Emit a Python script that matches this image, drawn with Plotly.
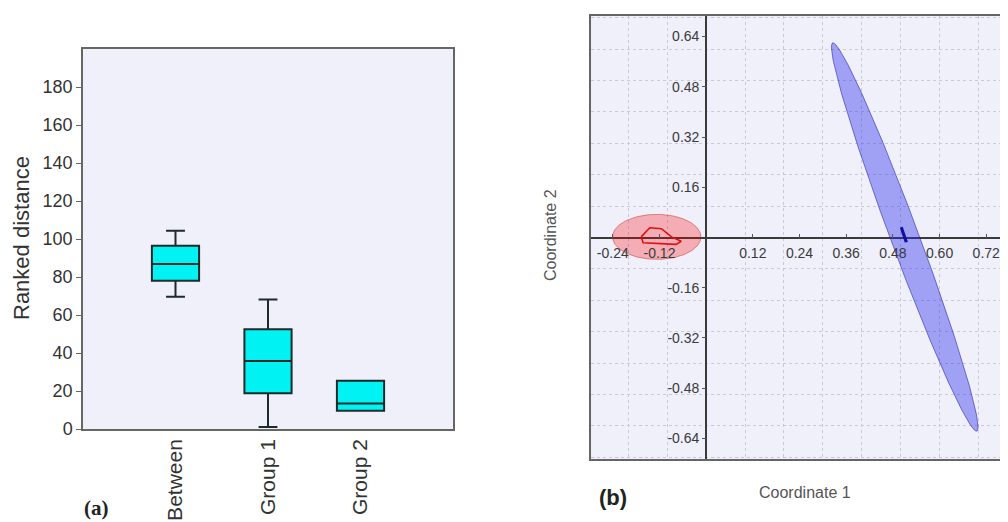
import numpy as np
import plotly.graph_objects as go

# ---------------- data: panel (a) box plot ----------------
categories = ["Between", "Group 1", "Group 2"]
lower_fence = [69.6, 1.0, 9.6]
q1_vals = [78.0, 18.8, 9.6]
median_vals = [86.8, 35.8, 13.4]
q3_vals = [96.5, 52.5, 25.4]
upper_fence = [104.4, 68.2, 25.4]
y_ticks_a = [0, 20, 40, 60, 80, 100, 120, 140, 160, 180]

# ---------------- data: panel (b) ordination ----------------
x_ticks_b = [-0.24, -0.12, 0.12, 0.24, 0.36, 0.48, 0.60, 0.72]
y_ticks_b = [-0.64, -0.48, -0.32, -0.16, 0.16, 0.32, 0.48, 0.64]

# red group: 95% ellipse (center, semi-axes) and convex hull
red_center = [-0.127, 0.002]
red_semi_axes = [0.1135, 0.0717]
red_hull_x = [-0.167, -0.145, -0.115, -0.089, -0.064, -0.077, -0.162, -0.167]
red_hull_y = [0.002, 0.031, 0.028, 0.002, -0.012, -0.022, -0.017, 0.002]

# blue group: ellipse (center, tip of major semi-axis, half horizontal width)
blue_center = [0.5105, 0.0015]
blue_tip = [0.326, 0.620]
blue_half_width = 0.0386
blue_hull_x = [0.500, 0.504, 0.516, 0.512, 0.500]
blue_hull_y = [0.030, 0.031, -0.012, -0.013, 0.030]

# ---------------- layout geometry ----------------
# The page body has an 8px margin, so the figure is drawn 8px in from the
# top-left corner of the 1008x522 window: size it to fill the rest.
OFF = 8
VW, VH = 1008, 522
W, H = VW - OFF, VH - OFF
def px_x(p):
    return (p - OFF) / W
def px_y(p):
    return (VH - p) / H

a_dom_x = [px_x(83), px_x(453)]
a_dom_y = [px_y(429), px_y(49)]
b_dom_x = [px_x(591), px_x(1008)]
b_dom_y = [px_y(459), px_y(16)]

xb_range = [-0.296, -0.296 + (1008 - 591) / 389.0]
yb_range = [-0.7055, 0.7055]

# paper positions of the zero lines (for the free axes carrying labels)
x_zero_paper = b_dom_x[0] + (0 - xb_range[0]) / (xb_range[1] - xb_range[0]) * (b_dom_x[1] - b_dom_x[0])
y_zero_paper = b_dom_y[0] + (0 - yb_range[0]) / (yb_range[1] - yb_range[0]) * (b_dom_y[1] - b_dom_y[0])

FONT = "Liberation Sans, Arial, sans-serif"
BG = "#f0f0fa"

fig = go.Figure()

# ---- panel (a)
fig.add_trace(go.Box(
    x=categories, q1=q1_vals, median=median_vals, q3=q3_vals,
    lowerfence=lower_fence, upperfence=upper_fence,
    fillcolor="#00f2f2", line=dict(color="#1c2a2a", width=2),
    width=0.51, whiskerwidth=0.4, boxpoints=False,
    xaxis="x", yaxis="y", showlegend=False, hoverinfo="skip"))

# ---- panel (b) ellipses
t = np.linspace(0, 2 * np.pi, 200)
rx = red_center[0] + red_semi_axes[0] * np.cos(t)
ry = red_center[1] + red_semi_axes[1] * np.sin(t)
fig.add_trace(go.Scatter(x=rx, y=ry, mode="lines", fill="toself",
                         fillcolor="rgba(255,0,0,0.28)",
                         line=dict(color="rgba(200,40,40,0.5)", width=1),
                         xaxis="x2", yaxis="y2", showlegend=False, hoverinfo="skip"))
fig.add_trace(go.Scatter(x=red_hull_x, y=red_hull_y, mode="lines",
                         line=dict(color="#e01010", width=1.6),
                         xaxis="x2", yaxis="y2", showlegend=False, hoverinfo="skip"))

ax = blue_tip[0] - blue_center[0]
ay = blue_tip[1] - blue_center[1]
bx_ = blue_center[0] + ax * np.cos(t) + blue_half_width * np.sin(t)
by_ = blue_center[1] + ay * np.cos(t)
fig.add_trace(go.Scatter(x=bx_, y=by_, mode="lines", fill="toself",
                         fillcolor="rgba(40,40,235,0.40)",
                         line=dict(color="rgba(40,40,170,0.6)", width=1),
                         xaxis="x2", yaxis="y2", showlegend=False, hoverinfo="skip"))
fig.add_trace(go.Scatter(x=blue_hull_x, y=blue_hull_y, mode="lines",
                         line=dict(color="#1010a0", width=1.6),
                         xaxis="x2", yaxis="y2", showlegend=False, hoverinfo="skip"))

# dummy trace for the label axes
fig.add_trace(go.Scatter(x=[None], y=[None], xaxis="x3", yaxis="y3",
                         showlegend=False, hoverinfo="skip"))

grid_kw = dict(showgrid=True, gridcolor="#cacad4", griddash="3px,3px", gridwidth=1)

fig.update_layout(
    width=W, height=H,
    margin=dict(l=0, r=0, t=0, b=0, autoexpand=False),
    paper_bgcolor="white", plot_bgcolor=BG,
    font=dict(family=FONT, color="#333333"),
    xaxis=dict(domain=a_dom_x, anchor="y", type="category", range=[-1, 3],
               automargin=False,
               showline=True, mirror=True, linecolor="#666666", linewidth=1.5,
               showgrid=False, zeroline=False, ticks="",
               tickangle=-90, tickfont=dict(size=21, color="#333333")),
    yaxis=dict(domain=a_dom_y, anchor="x", range=[0, 200], automargin=False,
               tickvals=y_ticks_a, showline=True, mirror=True,
               linecolor="#666666", linewidth=1.5, showgrid=False, zeroline=False,
               ticks="outside", ticklen=5, tickcolor="#666666",
               tickfont=dict(size=18, color="#333333")),
    xaxis2=dict(domain=b_dom_x, anchor="y2", range=xb_range, automargin=False,
                tick0=0, dtick=0.1, showticklabels=False, ticks="",
                zeroline=True, zerolinecolor="#3a3a3a", zerolinewidth=1.5,
                showline=True, mirror=True, linecolor="#666666", linewidth=1.5,
                **grid_kw),
    yaxis2=dict(domain=b_dom_y, anchor="x2", range=yb_range, automargin=False,
                tick0=0, dtick=0.1, showticklabels=False, ticks="",
                zeroline=True, zerolinecolor="#3a3a3a", zerolinewidth=1.5,
                showline=True, mirror=False, linecolor="#666666", linewidth=1.5,
                **grid_kw),
    xaxis3=dict(overlaying="x2", anchor="free", position=y_zero_paper,
                range=xb_range, tickvals=x_ticks_b, automargin=False,
                ticktext=[f"{v:.2f}" for v in x_ticks_b],
                ticks="inside", ticklen=4, tickcolor="#555555",
                ticklabelstandoff=5,
                showgrid=False, zeroline=False, showline=False,
                tickfont=dict(size=14, color="#3a3a3a")),
    yaxis3=dict(overlaying="y2", anchor="free", position=x_zero_paper, side="left",
                range=yb_range, tickvals=y_ticks_b, automargin=False,
                ticktext=[f"{v:.2f}" for v in y_ticks_b],
                ticks="outside", ticklen=4, tickcolor="#555555",
                showgrid=False, zeroline=False, showline=False,
                tickfont=dict(size=14, color="#3a3a3a")),
    annotations=[
        dict(text="Ranked distance", x=px_x(22), y=px_y(238), xref="paper", yref="paper",
             textangle=-90, showarrow=False, xanchor="center", yanchor="middle",
             font=dict(size=22, color="#333333")),
        dict(text="Coordinate 1", x=px_x(805), y=px_y(492), xref="paper", yref="paper",
             showarrow=False, xanchor="center", yanchor="middle",
             font=dict(size=16, color="#555555")),
        dict(text="Coordinate 2", x=px_x(550), y=px_y(235), xref="paper", yref="paper",
             textangle=-90, showarrow=False, xanchor="center", yanchor="middle",
             font=dict(size=16, color="#555555")),
        dict(text="<b>(a)</b>", x=px_x(96), y=px_y(508), xref="paper", yref="paper",
             showarrow=False, xanchor="center", yanchor="middle",
             font=dict(size=21, color="#222222", family="Liberation Serif, Times New Roman, serif")),
        dict(text="<b>(b)</b>", x=px_x(613), y=px_y(497), xref="paper", yref="paper",
             showarrow=False, xanchor="center", yanchor="middle",
             font=dict(size=22, color="#222222", family=FONT)),
    ],
)

fig.write_html("out.html")
